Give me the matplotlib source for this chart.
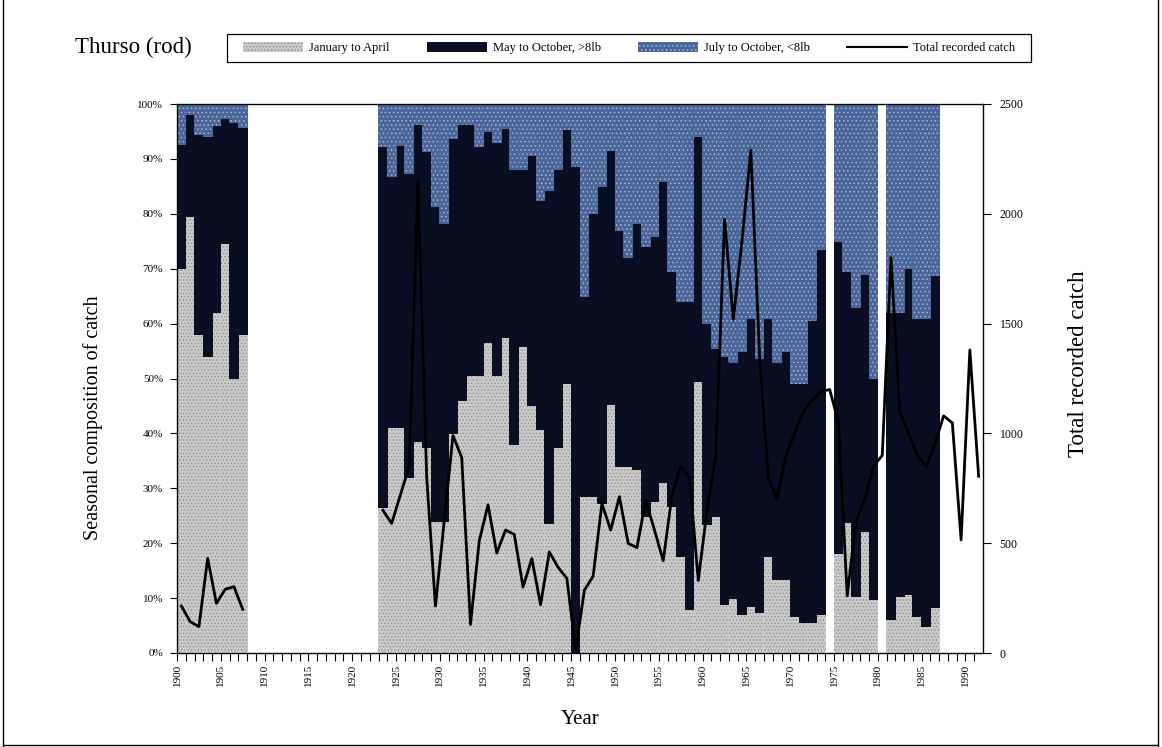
import numpy as np
import matplotlib
matplotlib.use("Agg")
from matplotlib import pyplot as plt
from matplotlib.patches import Patch, Rectangle
from matplotlib.lines import Line2D

plt.rcParams['font.family'] = ['Liberation Serif', 'DejaVu Serif']
plt.rcParams['hatch.linewidth'] = 0.6

# years that have a seasonal breakdown (gaps 1908-22, 1974, 1980)
bar_years = (list(range(1900, 1908)) + list(range(1923, 1974))
             + list(range(1975, 1980)) + list(range(1981, 1987)))

# % of catch taken January to April
jan_apr = [70, 79.5, 58, 54, 62, 74.5, 50, 58,
           26.5, 41, 41, 32, 38.5, 37.5, 24, 24, 40, 46,
           50.5, 50.5, 56.5, 50.5, 57.5, 38, 55.8, 45, 40.7, 23.5,
           37.5, 49, 0, 28.5, 28.5, 27.3, 45.2, 34, 34, 33.4,
           24.9, 27.6, 31, 26.7, 17.6, 7.9, 49.5, 23.4, 24.9, 8.8,
           10, 7, 8.5, 7.3, 17.6, 13.4, 13.4, 6.7, 5.5, 5.5, 7,
           18.2, 23.7, 10.3, 22.2, 9.7,
           6.1, 10.3, 10.6, 6.7, 4.9, 8.2]

# cumulative % up to end of "May to October, >8lb"; rest is July-October <8lb
may_oct_top = [92.6, 98, 94.5, 94, 96, 97.4, 96.6, 95.8,
               92.2, 86.8, 92.5, 87.4, 96.2, 91.3, 81.3, 78.3, 93.8, 96.2,
               96.2, 92.2, 95, 93, 95.6, 88, 88, 90.7, 82.5, 84.3,
               88, 95.3, 88.6, 65, 80, 85, 91.6, 77, 72, 78.3,
               74, 75.8, 85.8, 69.5, 64, 64, 94, 60, 55.5, 54,
               53, 55, 61, 53.7, 61, 53, 55, 49, 49, 60.5, 73.5,
               75, 69.5, 63, 69, 50,
               62, 62, 70, 61, 61, 68.7]

# total recorded rod catch
catch_years_a = list(range(1900, 1908))
catch_a = [214, 143, 120, 431, 226, 290, 302, 199]
catch_years_b = list(range(1923, 1992))
catch_b = [650, 590, 720, 850, 2150, 800, 214, 600, 990, 890,
           130, 510, 675, 455, 560, 540, 300, 430, 220, 460,
           390, 340, 15, 286, 350, 680, 560, 712, 499, 480,
           695, 560, 420, 720, 850, 800, 330, 650, 900, 1975,
           1520, 1880, 2290, 1350, 800, 700, 900, 1000, 1100, 1150,
           1190, 1200, 1050, 260, 600, 700, 850, 900, 1800, 1100,
           1000, 900, 850, 950, 1080, 1048, 515, 1380, 805]

c_jan = '#cbcbcb'
c_jan_h = '#8e8e8e'
c_may = '#0a0e22'
c_jul = '#4a6699'
c_jul_h = '#a3b9de'

fig = plt.figure(figsize=(11.62, 7.47), dpi=100)
ax = fig.add_axes([177/1162, 1-653/747, (983-177)/1162, (653-104)/747])

yrs = np.array(bar_years)
ja = np.array(jan_apr)
mt = np.array(may_oct_top)
bar_kw = dict(width=1.0, align='edge', linewidth=0, antialiased=False, snap=False)
ax.bar(yrs, ja, color=c_jan, edgecolor=c_jan_h, hatch='.....', **bar_kw)
ax.bar(yrs, mt - ja, bottom=ja, color=c_may, edgecolor=c_may, **bar_kw)
ax.bar(yrs, 100 - mt, bottom=mt, color=c_jul, edgecolor=c_jul_h, hatch='....', **bar_kw)

ax.set_xlim(1900, 1992)
ax.set_ylim(0, 100)
ax.set_yticks(np.arange(0, 101, 10))
ax.set_yticklabels(['%d%%' % v for v in range(0, 101, 10)], fontsize=8)
ax.set_xticks(np.arange(1900, 1991, 5))
ax.set_xticklabels([str(v) for v in range(1900, 1991, 5)], rotation=90, fontsize=8)
ax.set_xticks(np.arange(1900, 1992, 1), minor=True)
ax.tick_params(axis='x', which='both', length=6, width=0.8, direction='out', pad=2)
ax.tick_params(axis='y', length=5, width=0.8, direction='out', pad=5)
for s in ax.spines.values():
    s.set_linewidth(0.9)

ax2 = ax.twinx()
ax2.set_ylim(0, 2500)
ax2.set_yticks(np.arange(0, 2501, 500))
ax2.tick_params(axis='y', length=6, width=0.8, labelsize=8.5, pad=6)
ax2.plot(np.array(catch_years_a) + 0.5, catch_a, color='black', lw=2.0)
ax2.plot(np.array(catch_years_b) + 0.5, catch_b, color='black', lw=2.0)

fig.text(93/1162, 1-418/747, 'Seasonal composition of catch', rotation=90,
         ha='center', va='center', fontsize=14.5)
fig.text(1079/1162, 1-364/747, 'Total recorded catch', rotation=90,
         ha='center', va='center', fontsize=16.5)
fig.text(580/1162, 1-720/747, 'Year', ha='center', va='center', fontsize=15)
fig.text(75/1162, 1-47/747, 'Thurso (rod)', ha='left', va='center', fontsize=16.5)

# legend box
fig.add_artist(Rectangle((227/1162, 1-62/747), 804/1162, 28/747,
                         transform=fig.transFigure, facecolor='white',
                         edgecolor='black', linewidth=0.9))
handles = [Patch(facecolor=c_jan, edgecolor=c_jan_h, hatch='.....', linewidth=0),
           Patch(facecolor=c_may, edgecolor=c_may, linewidth=0),
           Patch(facecolor=c_jul, edgecolor=c_jul_h, hatch='....', linewidth=0),
           Line2D([], [], color='black', lw=1.5)]
labels = ['January to April', 'May to October, >8lb',
          'July to October, <8lb', 'Total recorded catch']
leg = fig.legend(handles, labels, loc='center left', ncol=4, mode='expand',
                 bbox_to_anchor=(243/1162, 1-62/747, 772/1162, 28/747),
                 fontsize=9, frameon=False, handlelength=4.8,
                 handleheight=0.9, handletextpad=0.5, borderaxespad=0,
                 borderpad=0)

# page frame (left, right, bottom)
fig.add_artist(Line2D([3/1162, 3/1162], [0, 1], color='black', lw=1.0))
fig.add_artist(Line2D([1158/1162, 1158/1162], [0, 1], color='black', lw=1.0))
fig.add_artist(Line2D([3/1162, 1158/1162], [2/747, 2/747], color='black', lw=1.0))

fig.savefig('out.png', dpi=100)
